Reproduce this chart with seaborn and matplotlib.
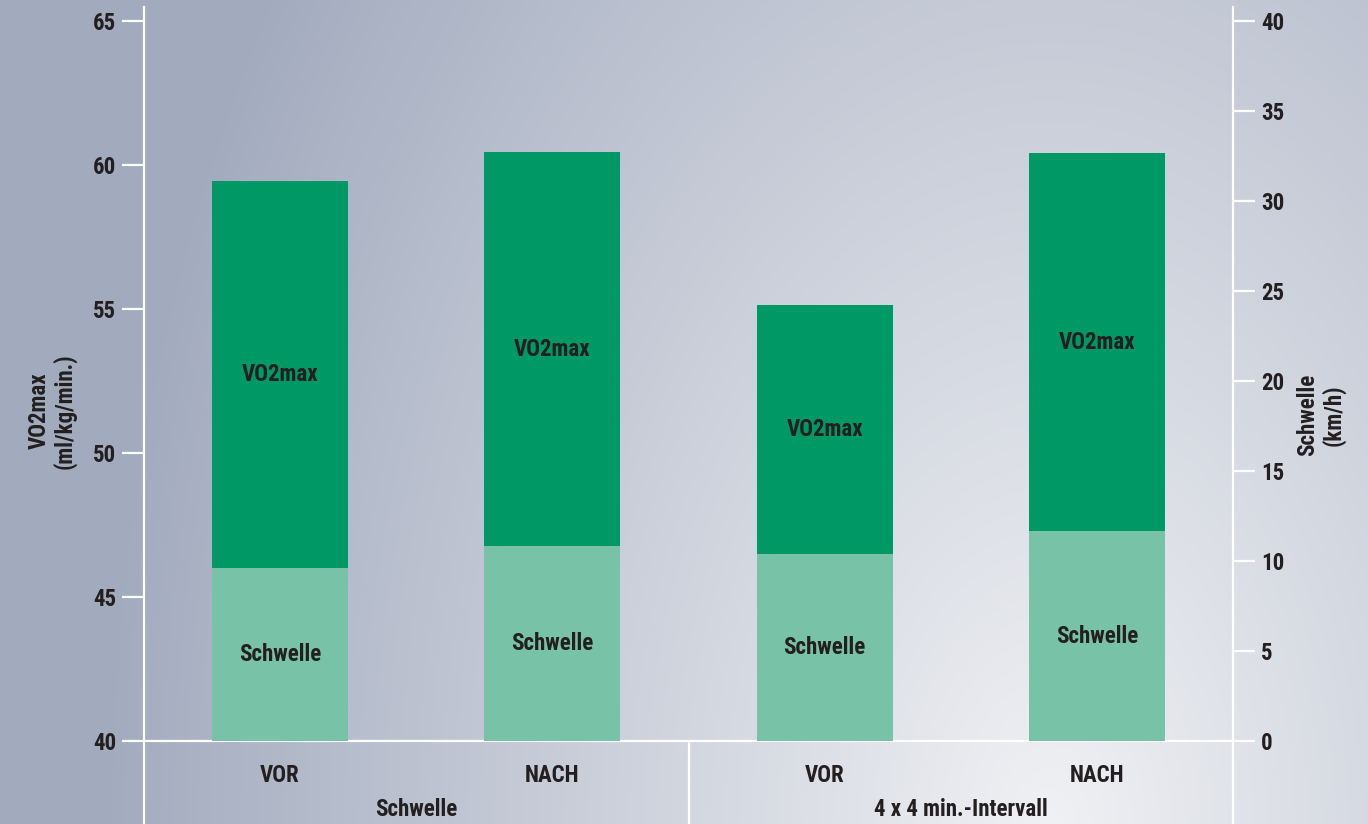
import numpy as np
import pandas as pd
import matplotlib
matplotlib.use("Agg")
import matplotlib.pyplot as plt
import seaborn as sns
from matplotlib import font_manager

# ---- data ----
groups = ["Schwelle", "Schwelle", "4 x 4 min.-Intervall", "4 x 4 min.-Intervall"]
phases = ["VOR", "NACH", "VOR", "NACH"]
vo2max = [59.45, 60.45, 55.15, 60.42]          # ml/kg/min (left axis)
schwelle = [9.6, 10.83, 10.39, 11.67]          # km/h (right axis)
left_ticks = [40, 45, 50, 55, 60, 65]
right_ticks = [0, 5, 10, 15, 20, 25, 30, 35, 40]

sns.set_theme(style="white")
names = {f.name for f in font_manager.fontManager.ttflist}
cands = ["Liberation Sans Narrow", "Roboto Condensed", "Open Sans Condensed", "Noto Sans Condensed"]
first = next((c for c in cands if c in names), "Liberation Sans")
plt.rcParams["font.family"] = [first, "DejaVu Sans"]
plt.rcParams["font.weight"] = "bold"
TXT = "#231f20"
DARK = "#009865"
LIGHT = "#78c3a8"
FS = 16.5

W, H = 1368, 824
fig = plt.figure(figsize=(W / 100, H / 100), dpi=100)

# background radial gradient
bg = fig.add_axes([0, 0, 1, 1], zorder=-10)
yy, xx = np.mgrid[0:H, 0:W]
r = np.sqrt(((xx - 1050) / 950.0) ** 2 + ((yy - 830) / 1500.0) ** 2)
r = np.clip(r, 0, 1)
light = np.array([0xf0, 0xf1, 0xf4]) / 255
dark = np.array([0xa2, 0xab, 0xbe]) / 255
img = light[None, None, :] * (1 - r[..., None]) + dark[None, None, :] * r[..., None]
bg.imshow(img, aspect="auto", extent=[0, 1, 0, 1])
bg.axis("off")

x0, x1 = 144 / W, 1233 / W
y0, y1 = (H - 741) / H, (H - 7) / H
ax = fig.add_axes([x0, y0, x1 - x0, y1 - y0])
ax.patch.set_alpha(0)

df = pd.DataFrame({"pos": [0, 1, 2, 3], "vo2max": vo2max, "schwelle": schwelle})
sns.barplot(data=df, x="pos", y="vo2max", color=DARK, saturation=1, width=0.5,
            ax=ax, native_scale=True, zorder=2, linewidth=0, edgecolor="none")
ax.set_ylim(40, 65.5)
ax.set_xlim(-0.5, 3.5)

ax2 = ax.twinx()
sns.barplot(data=df, x="pos", y="schwelle", color=LIGHT, saturation=1, width=0.5,
            ax=ax2, native_scale=True, zorder=2, linewidth=0, edgecolor="none")
ax2.set_ylim(0, 40 * 25.5 / 25)
ax2.set_xlim(-0.5, 3.5)

for a in (ax, ax2):
    for s in a.spines.values():
        s.set_visible(False)
    a.set_xlabel("")
    a.set_ylabel("")
    a.set_xticks([])

for a, side in ((ax, "left"), (ax, "bottom"), (ax2, "right")):
    sp = a.spines[side]
    sp.set_visible(True)
    sp.set_color("white")
    sp.set_linewidth(1.6)
    sp.set_zorder(5)

ax.set_yticks(left_ticks)
ax.set_yticklabels([str(t) for t in left_ticks])
ax.tick_params(axis="y", which="both", left=True, length=16, width=1.6, color="white",
               pad=4, labelsize=FS, labelcolor=TXT, direction="out")
ax2.set_yticks(right_ticks)
ax2.set_yticklabels([str(t) for t in right_ticks])
ax2.tick_params(axis="y", which="both", right=True, length=16, width=1.6, color="white",
                pad=4, labelsize=FS, labelcolor=TXT, direction="out")
for lab in ax.get_yticklabels() + ax2.get_yticklabels():
    lab.set_fontweight("bold")

# vertical separators below the plot
trans = ax.get_xaxis_transform()
for xv in (-0.5, 1.5, 3.5):
    ax.plot([xv, xv], [0, -0.12], transform=trans, color="white", lw=1.6,
            clip_on=False, zorder=5)

# axis titles
fig.text(52 / W, 1 - 411 / H, "VO2max\n(ml/kg/min.)", rotation=90, ha="center", va="center",
         fontsize=FS, fontweight="bold", color=TXT, linespacing=1.1)
fig.text(1321 / W, 1 - 415 / H, "Schwelle\n(km/h)", rotation=90, ha="center", va="center",
         fontsize=FS, fontweight="bold", color=TXT, linespacing=1.1)

# category labels
for i, ph in enumerate(phases):
    ax.text(i, -0.047, ph, transform=trans, ha="center", va="center",
            fontsize=FS, fontweight="bold", color=TXT)
grp_names = list(dict.fromkeys(groups))
for gi, g in enumerate(grp_names):
    ax.text(gi * 2 + 0.5, -0.094, g, transform=trans, ha="center", va="center",
            fontsize=FS, fontweight="bold", color=TXT)

# in-bar labels
for i in range(4):
    s_top_left = 40 + schwelle[i] * 25 / 40
    ax.text(i, (s_top_left + vo2max[i]) / 2, "VO2max", ha="center", va="center",
            fontsize=FS, fontweight="bold", color=TXT, zorder=6)
    ax2.text(i, schwelle[i] / 2, "Schwelle", ha="center", va="center",
             fontsize=FS, fontweight="bold", color=TXT, zorder=6)

fig.savefig("out.png", dpi=100)
